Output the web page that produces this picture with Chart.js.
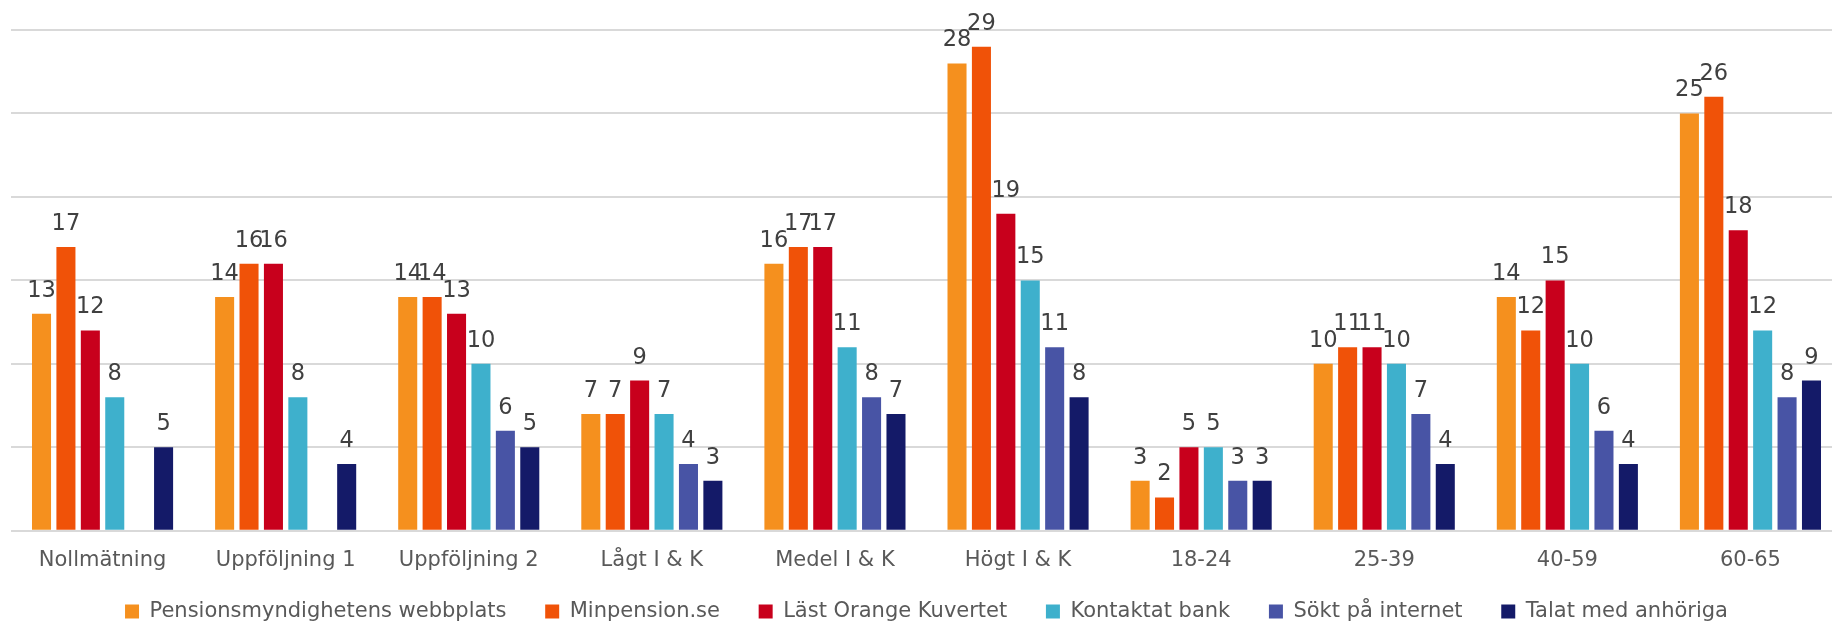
<!DOCTYPE html>
<html lang="sv">
<head>
  <meta charset="UTF-8" />
  <title>Informationskällor</title>
  <script src="https://cdn.jsdelivr.net/npm/chart.js"></script>
  <style>
    html, body { margin: 0; padding: 0; background: #fff; overflow: hidden; }
    #wrapper { position: absolute; left: 0; top: 0; width: 1842px; height: 632px; }
  </style>
</head>
<body>

<div id="wrapper">
  <canvas id="grafik"></canvas>
</div>

<script>
  const kategorier = ["Nollmätning", "Uppföljning 1", "Uppföljning 2", "Lågt I & K", "Medel I & K",
    "Högt I & K", "18-24", "25-39", "40-59", "60-65"];

  const serier = ["Pensionsmyndighetens webbplats", "Minpension.se", "Läst Orange Kuvertet",
    "Kontaktat bank", "Sökt på internet", "Talat med anhöriga"];

  const webbplats = [13, 14, 14, 7, 16, 28, 3, 10, 14, 25];
  const minpension = [17, 16, 14, 7, 17, 29, 2, 11, 12, 26];
  const orangeKuvert = [12, 16, 13, 9, 17, 19, 5, 11, 15, 18];
  const bank = [8, 8, 10, 7, 11, 15, 5, 10, 10, 12];
  const internet = [null, null, 6, 4, 8, 11, 3, 7, 6, 8];
  const anhoriga = [5, 4, 5, 3, 7, 8, 3, 4, 4, 9];

  const yTicks = [0, 5, 10, 15, 20, 25, 30];

  const farger = ["#f5901e", "#f05208", "#c8001c", "#3eb0cc", "#4854a5", "#141a68"];
  const varden = [webbplats, minpension, orangeKuvert, bank, internet, anhoriga];

  const typsnitt = "'DejaVu Sans', Verdana, sans-serif";

  // skriver ut värdet ovanför varje stapel
  const etiketter = {
    id: "etiketter",
    afterDatasetsDraw(chart) {
      const ctx = chart.ctx;
      ctx.save();
      ctx.font = "22.5px " + typsnitt;
      ctx.fillStyle = "#404040";
      ctx.textAlign = "center";
      ctx.textBaseline = "alphabetic";
      chart.data.datasets.forEach((ds, i) => {
        const meta = chart.getDatasetMeta(i);
        meta.data.forEach((bar, j) => {
          const v = ds.data[j];
          if (v === null || v === undefined) return;
          ctx.fillText(v, bar.x, bar.y - 17);
        });
      });
      ctx.restore();
    }
  };

  const ctx = document.getElementById("grafik").getContext("2d");

  new Chart(ctx, {
    type: "bar",
    data: {
      labels: kategorier,
      datasets: serier.map((namn, i) => ({
        label: namn,
        data: varden[i],
        backgroundColor: farger[i],
        borderWidth: 0,
        categoryPercentage: 0.8,
        barPercentage: 0.78
      }))
    },
    options: {
      responsive: true,
      maintainAspectRatio: false,
      animation: false,
      layout: { padding: { top: 30, left: 11, right: 0, bottom: 0 } },
      scales: {
        x: {
          grid: { display: false, drawTicks: false },
          border: { display: false },
          ticks: {
            color: "#595959",
            padding: 17,
            font: { family: typsnitt, size: 21 }
          }
        },
        y: {
          min: 0,
          max: 30,
          afterBuildTicks: scale => { scale.ticks = yTicks.map(v => ({ value: v })); },
          afterFit: scale => { scale.width = 0; },
          ticks: { display: false },
          border: { display: false },
          grid: { color: "#d9d9d9", lineWidth: 2, drawTicks: false }
        }
      },
      plugins: {
        tooltip: { enabled: false },
        legend: {
          position: "bottom",
          labels: {
            color: "#595959",
            boxWidth: 14,
            boxHeight: 14,
            padding: 11,
            font: { family: typsnitt, size: 21 },
            generateLabels: chart => {
              const std = Chart.defaults.plugins.legend.labels.generateLabels(chart);
              return std.map((l, i) => {
                if (i < std.length - 1) l.text = l.text + "\u2003 ";
                l.lineWidth = 0;
                return l;
              });
            }
          }
        }
      }
    },
    plugins: [etiketter]
  });
</script>

</body>
</html>
